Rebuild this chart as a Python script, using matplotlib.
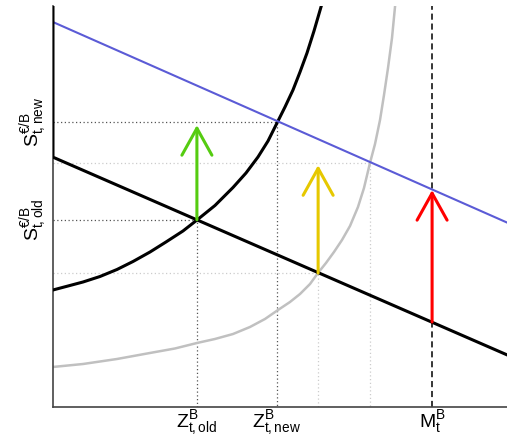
import matplotlib
matplotlib.use('Agg')
import matplotlib.pyplot as plt

plt.rcParams['mathtext.fontset'] = 'custom'
plt.rcParams['mathtext.rm'] = 'Liberation Sans'
plt.rcParams['mathtext.it'] = 'Liberation Sans'
plt.rcParams['font.family'] = ['Liberation Sans', 'DejaVu Sans']

# ── data (x and y in arbitrary units 0..10) ──────────────────────────────────
# exchange-rate schedule after the shock (blue) and before (black)
new_line_x = [0, 10]
new_line_y = [9.60, 4.60]
old_line_x = [0, 0, 10]
old_line_y = [10.0, 6.23, 1.30]

# supply curve, old (black) and new (gray)
old_curve_x = [0.000, 0.330, 0.661, 1.035, 1.410, 1.762, 2.137, 2.489, 2.863, 3.172, 3.568,
               3.965, 4.251, 4.515, 4.736, 4.934, 5.110, 5.286, 5.441, 5.595, 5.749, 5.903]
old_curve_y = [2.918, 3.017, 3.117, 3.254, 3.429, 3.628, 3.865, 4.115, 4.389, 4.663, 5.025,
               5.474, 5.835, 6.234, 6.633, 7.082, 7.481, 7.905, 8.354, 8.828, 9.377, 9.975]
new_curve_x = [0.000, 0.661, 1.410, 2.137, 2.687, 3.172, 3.568, 3.965, 4.339, 4.670, 4.956,
               5.220, 5.441, 5.661, 5.837, 6.013, 6.189, 6.366, 6.542, 6.718, 6.850, 6.982,
               7.093, 7.203, 7.291, 7.379, 7.467, 7.533]
new_curve_y = [0.998, 1.072, 1.197, 1.347, 1.459, 1.596, 1.696, 1.820, 1.995, 2.195, 2.419,
               2.618, 2.818, 3.067, 3.342, 3.591, 3.865, 4.165, 4.514, 4.988, 5.461, 6.085,
               6.559, 7.157, 7.781, 8.454, 9.202, 9.975]

# equilibrium points
z_old, s_old = 3.17, 4.67
z_new, s_new = 4.93, 7.11
z_mid, s_mid = 5.84, 3.34      # new curve meets old line
z_hi, s_hi = 6.98, 6.08        # new curve meets new line
m_b = 8.35

# arrows: (x, y start, y end, colour)
arrows = [
    (z_old, 4.67, 7.03, '#55cc11'),
    (z_mid, 3.34, 6.03, '#e6c800'),
    (m_b, 2.12, 5.41, '#ff0000'),
]

xtick_pos = [z_old, z_new, m_b]
xtick_lab = [r'$\mathrm{Z}^{\mathrm{B}}_{\mathrm{t,old}}$',
             r'$\mathrm{Z}^{\mathrm{B}}_{\mathrm{t,new}}$',
             r'$\mathrm{M}^{\mathrm{B}}_{\mathrm{t}}$']
ytick_pos = [s_old, s_new]
ytick_lab = [r'$\mathrm{S}^{\mathrm{€/B}}_{\mathrm{t,old}}$',
             r'$\mathrm{S}^{\mathrm{€/B}}_{\mathrm{t,new}}$']

fig = plt.figure(figsize=(5.07, 4.38), dpi=100)
ax = fig.add_axes([0.1045, 0.0708, 0.8955, 0.9155])
ax.set_xlim(0, 10)
ax.set_ylim(0, 10)

# guide lines
dark = dict(color='#555555', lw=0.9, linestyle=(0, (1, 2)), zorder=1)
light = dict(color='#cccccc', lw=0.9, linestyle=(0, (1, 2)), zorder=1)
ax.plot([0, z_new, z_new], [s_new, s_new, 0], **dark)
ax.plot([0, z_old, z_old], [s_old, s_old, 0], **dark)
ax.plot([0, z_mid, z_mid], [s_mid, s_mid, 0], **light)
ax.plot([0, z_hi, z_hi], [s_hi, s_hi, 0], **light)
ax.axvline(m_b, color='black', lw=1.1, linestyle=(0, (4, 2.5)), zorder=1)

ax.plot(new_curve_x, new_curve_y, color='#c0c0c0', lw=1.8, zorder=2)
ax.plot(old_curve_x, old_curve_y, color='black', lw=2.2, zorder=3)
ax.plot(new_line_x, new_line_y, color='#5b5bd6', lw=1.5, zorder=3)
ax.plot(old_line_x, old_line_y, color='black', lw=2.2, zorder=3)

for x, y0, y1, c in arrows:
    ax.annotate('', xy=(x, y1), xytext=(x, y0),
                arrowprops=dict(arrowstyle='->, head_length=0.97, head_width=0.54',
                                lw=2.2, color=c, shrinkA=0, shrinkB=0,
                                mutation_scale=20), zorder=4)

ax.set_xticks(xtick_pos)
ax.set_xticklabels(xtick_lab, fontsize=14)
ax.set_yticks(ytick_pos)
ax.set_yticklabels(ytick_lab, fontsize=14, rotation=90, va='center')
ax.tick_params(axis='x', length=0, pad=1)
ax.tick_params(axis='y', length=0, pad=3)

for s in ['top', 'right']:
    ax.spines[s].set_visible(False)
for s in ['left', 'bottom']:
    ax.spines[s].set_color('#444444')
    ax.spines[s].set_linewidth(1.2)

fig.savefig('out.png', dpi=100)
